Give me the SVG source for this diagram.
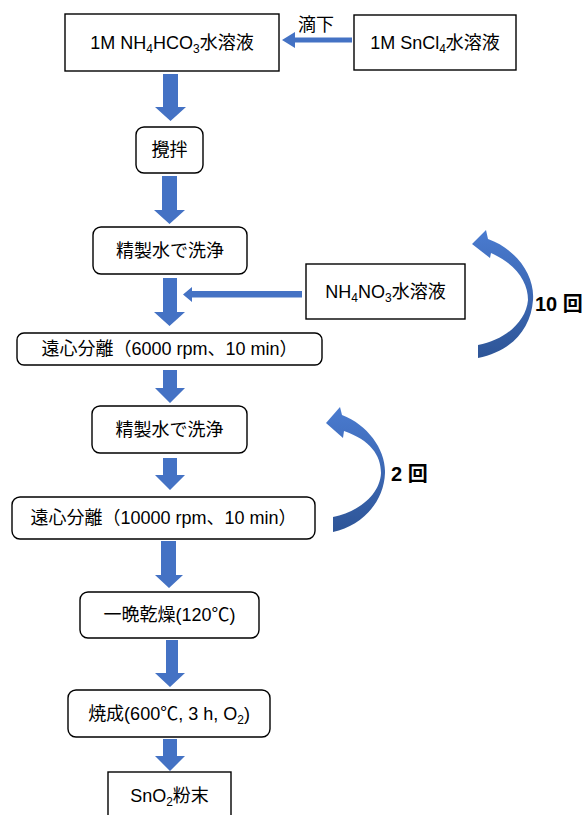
<svg xmlns="http://www.w3.org/2000/svg" width="587" height="815" viewBox="0 0 587 815">
<style>
.box{fill:#fff;stroke:#000;stroke-width:1.4}
.t{font-family:"Liberation Sans","Noto Sans CJK JP",sans-serif;font-size:18px;fill:#000;text-anchor:middle}
.b{font-family:"Liberation Sans","Noto Sans CJK JP",sans-serif;font-size:20px;font-weight:bold;fill:#000}
.arr{fill:#4472C4}
.cur{fill:url(#g)}
</style>
<defs>
<linearGradient id="g" x1="0" y1="0" x2="0" y2="1">
<stop offset="0" stop-color="#4A7BD0"/>
<stop offset="1" stop-color="#2E5597"/>
</linearGradient>
</defs>
<rect width="587" height="815" fill="#fff"/>
<g id="connectors">
<polygon class="arr" points="352,37.5 295,37.5 295,32 282,40 295,48 295,42.5 352,42.5"/>
<polygon class="arr" points="163,74 178,74 178,107 186,107 170.5,121 155,107 163,107"/>
<polygon class="arr" points="162,176 177,176 177,210 185,210 169.5,224 154,210 162,210"/>
<polygon class="arr" points="163,278 177,278 177,312 185,312 169.5,326 154,312 163,312"/>
<polygon class="arr" points="302,291 192,291 192,287 183,294.5 192,302 192,297.5 302,297.5"/>
<polygon class="arr" points="163,370 177,370 177,388 185,388 170,403 155,388 163,388"/>
<polygon class="arr" points="163,458 177,458 177,475 185,475 170,490 155,475 163,475"/>
<polygon class="arr" points="161,541 176,541 176,575 183,575 169,588 155,575 161,575"/>
<polygon class="arr" points="166,640 178,640 178,673 185,673 170,687 155,673 166,673"/>
<polygon class="arr" points="163,739 177,739 177,756 185,756 170,771 155,756 163,756"/>
<path class="cur" d="M472,244 L486,230 L488,239 C516,249 535,275 533,300 C531,330 510,352 478,358 L478,345 C505,340 526,322 528,300 C528,282 516,264 491,253 L490,258 Z"/>
<path class="cur" d="M326,423 L340,407 L342,415 C368,425 386,450 385,473 C384,502 362,526 333,532 L333,517 C358,512 380,495 381,473 C381,455 370,440 344,431 L343,438 Z"/>
</g>
<text class="t" x="316" y="31">滴下</text>
<text class="b" x="535" y="311">10 回</text>
<text class="b" x="391" y="481">2 回</text>
<g id="n1"><rect class="box" x="65" y="14" width="214" height="57"/>
<text class="t" x="172" y="49">1M NH<tspan font-size="12" dy="4">4</tspan><tspan dy="-4">HCO</tspan><tspan font-size="12" dy="4">3</tspan><tspan dy="-4">水溶液</tspan></text></g>
<g id="n2"><rect class="box" x="354" y="15" width="162" height="55"/>
<text class="t" x="435" y="49">1M SnCl<tspan font-size="12" dy="4">4</tspan><tspan dy="-4">水溶液</tspan></text></g>
<g id="n3"><rect class="box" x="136" y="127" width="67" height="46" rx="8"/>
<text class="t" x="169.5" y="156">攪拌</text></g>
<g id="n4"><rect class="box" x="93" y="227" width="154" height="47" rx="8"/>
<text class="t" x="170" y="257">精製水で洗浄</text></g>
<g id="n5"><rect class="box" x="306" y="264" width="159" height="55"/>
<text class="t" x="385.5" y="298">NH<tspan font-size="12" dy="4">4</tspan><tspan dy="-4">NO</tspan><tspan font-size="12" dy="4">3</tspan><tspan dy="-4">水溶液</tspan></text></g>
<g id="n6"><rect class="box" x="17" y="333" width="305" height="32" rx="7"/>
<text class="t" x="169.5" y="355">遠心分離（6000 rpm、10 min）</text></g>
<g id="n7"><rect class="box" x="92" y="406" width="155" height="47" rx="8"/>
<text class="t" x="169.5" y="436">精製水で洗浄</text></g>
<g id="n8"><rect class="box" x="12" y="497" width="303" height="42" rx="8"/>
<text class="t" x="163.5" y="524">遠心分離（10000 rpm、10 min）</text></g>
<g id="n9"><rect class="box" x="80" y="592" width="179" height="46" rx="8"/>
<text class="t" x="169.5" y="621">一晩乾燥(120℃)</text></g>
<g id="n10"><rect class="box" x="68" y="690" width="202" height="47" rx="8"/>
<text class="t" x="169" y="720">焼成(600℃, 3 h, O<tspan font-size="12" dy="4">2</tspan><tspan dy="-4">)</tspan></text></g>
<g id="n11"><rect class="box" x="108" y="772" width="123" height="60"/>
<text class="t" x="169.5" y="802">SnO<tspan font-size="12" dy="4">2</tspan><tspan dy="-4">粉末</tspan></text></g>
</svg>
